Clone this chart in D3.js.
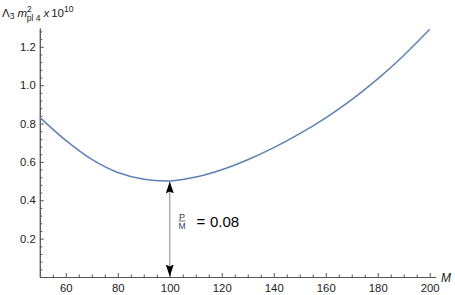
<!DOCTYPE html>
<html>
<head>
<meta charset="utf-8">
<script src="https://cdn.jsdelivr.net/npm/d3@7.9.0/dist/d3.min.js"></script>
<style>
  body { margin: 0; background: #fff; }
  svg { display: block; font-family: "Liberation Sans", Arial, sans-serif; }
  .tick text { font-size: 11.3px; fill: #222; }
  .axis path, .axis line { stroke: #555; }
</style>
</head>
<body>
<svg width="455" height="295"></svg>
<script>
// curve
const masses = [50, 60, 70, 80, 90, 100, 110, 120, 130, 140, 150, 160, 170, 180, 190, 200];
const lambda = [0.832, 0.712, 0.613, 0.545, 0.510, 0.501, 0.521, 0.559, 0.611, 0.674, 0.747, 0.830, 0.925, 1.033, 1.155, 1.291];
const xTicks = [60, 80, 100, 120, 140, 160, 180, 200];
const yTicks = [0.2, 0.4, 0.6, 0.8, 1.0, 1.2];
const arrowAt = 100;
const ratioValue = "0.08";

const svg = d3.select('svg');

let x = d3.scaleLinear().domain([50, 202.3]).range([39.8, 435.7]);
let y = d3.scaleLinear().domain([0, 1.298]).range([277, 28]);

// minor ticks
let xMinor = d3.range(55, 201, 5).filter(d => !xTicks.includes(d));
let yMinor = d3.range(0.04, 1.29, 0.04).map(d => +d.toFixed(2)).filter(d => !yTicks.some(t => Math.abs(t - d) < 1e-6));

svg.append('g').attr('class', 'axis')
  .attr('transform', 'translate(0,277)')
  .call(d3.axisBottom(x).tickValues(xMinor).tickSize(-2.5).tickSizeOuter(0).tickFormat(''));
svg.append('g').attr('class', 'axis')
  .attr('transform', 'translate(0,277)')
  .call(d3.axisBottom(x).tickValues(xTicks).tickSize(-4).tickSizeOuter(0).tickPadding(7).tickFormat(d3.format('d')));

svg.append('g').attr('class', 'axis')
  .attr('transform', 'translate(39.8,0)')
  .call(d3.axisLeft(y).tickValues(yMinor).tickSize(-2.5).tickSizeOuter(0).tickFormat(''));
svg.append('g').attr('class', 'axis')
  .attr('transform', 'translate(39.8,0)')
  .call(d3.axisLeft(y).tickValues(yTicks).tickSize(-4).tickSizeOuter(0).tickPadding(4).tickFormat(d3.format('.1f')));

// the curve
let line = d3.line()
  .x((d, i) => x(masses[i]))
  .y(d => y(d))
  .curve(d3.curveCatmullRom);

svg.append('path')
  .datum(lambda)
  .attr('d', line)
  .attr('fill', 'none')
  .attr('stroke', '#5E81B5')
  .attr('stroke-width', 1.5);

// double arrow at the minimum
let defs = svg.append('defs');
defs.append('marker')
  .attr('id', 'head')
  .attr('viewBox', '0 0 12 8')
  .attr('refX', 12).attr('refY', 4)
  .attr('markerWidth', 12).attr('markerHeight', 8)
  .attr('markerUnits', 'userSpaceOnUse')
  .attr('orient', 'auto-start-reverse')
  .append('path')
  .attr('d', 'M0,0 L12,4 L0,8 L2,4 Z')
  .attr('fill', '#000');

let yMin = lambda[masses.indexOf(arrowAt)];
svg.append('line')
  .attr('x1', x(arrowAt)).attr('x2', x(arrowAt))
  .attr('y1', y(yMin) + 0.5).attr('y2', y(0) - 0.5)
  .attr('stroke', '#888')
  .attr('stroke-width', 1)
  .attr('marker-start', 'url(#head)')
  .attr('marker-end', 'url(#head)');

// P/M label
let lab = svg.append('g').attr('transform', 'translate(182,221)');
lab.append('text').attr('x', 0).attr('y', -1.5).attr('text-anchor', 'middle')
  .attr('font-size', 9).attr('fill', '#4a3040').text('P');
lab.append('line').attr('x1', -3.5).attr('x2', 3.5).attr('y1', 0).attr('y2', 0)
  .attr('stroke', '#333').attr('stroke-width', 0.7);
lab.append('text').attr('x', 0).attr('y', 7.5).attr('text-anchor', 'middle')
  .attr('font-size', 8.5).attr('fill', '#303a6a').text('M');
lab.append('text').attr('x', 14.5).attr('y', 5.5).attr('font-size', 15).attr('fill', '#000').text('=');
lab.append('text').attr('x', 28).attr('y', 5.5).attr('font-size', 15).attr('fill', '#000').text(ratioValue);

// axis labels
svg.append('text')
  .attr('x', 441).attr('y', 282)
  .attr('font-size', 12).attr('font-style', 'italic').attr('fill', '#222')
  .text('M');

let yl = svg.append('text').attr('x', 2).attr('y', 17).attr('font-size', 11.5).attr('fill', '#222');
yl.append('tspan').text('Λ');
yl.append('tspan').attr('font-size', 8.5).attr('dy', 2).text('3');
yl.append('tspan').attr('dy', -2).attr('dx', 3).attr('font-style', 'italic').text('m');
yl.append('tspan').attr('font-size', 8.5).attr('dy', -5).text('2');
yl.append('tspan').attr('font-size', 8.5).attr('dy', 9).attr('dx', -5).text('pl 4');
yl.append('tspan').attr('dy', -4).attr('dx', 3).attr('font-style', 'italic').text('x');
yl.append('tspan').attr('dx', 2).text('10');
yl.append('tspan').attr('font-size', 8.5).attr('dy', -5).text('10');
</script>
</body>
</html>
